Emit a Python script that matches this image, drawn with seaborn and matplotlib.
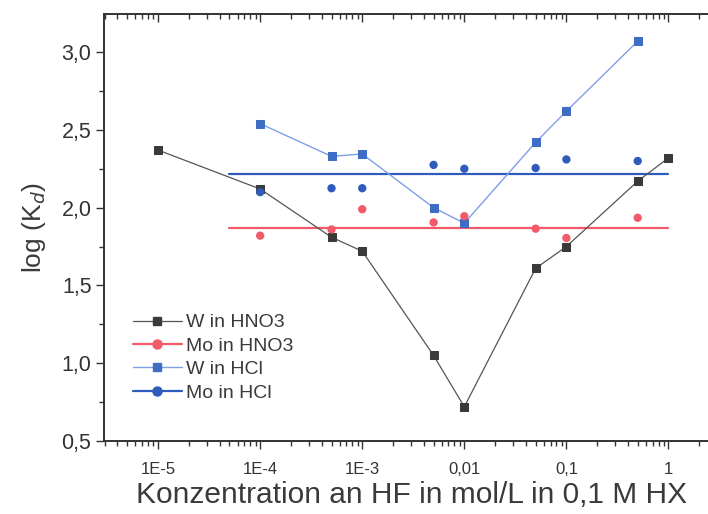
import numpy as np
import pandas as pd
import matplotlib
matplotlib.use("Agg")
import matplotlib.pyplot as plt
from matplotlib.lines import Line2D
from matplotlib.ticker import FixedLocator, FixedFormatter, LogLocator, MultipleLocator, NullFormatter
import seaborn as sns

# HF concentration (mol/L) in 0.1 M HX
hf_w_hno3 = [1e-5, 1e-4, 5e-4, 1e-3, 5e-3, 1e-2, 5e-2, 0.1, 0.5, 1.0]
logkd_w_hno3 = [2.37, 2.12, 1.81, 1.72, 1.05, 0.72, 1.61, 1.75, 2.17, 2.32]

hf_hcl = [1e-4, 5e-4, 1e-3, 5e-3, 1e-2, 5e-2, 0.1, 0.5]
logkd_w_hcl = [2.54, 2.33, 2.345, 2.00, 1.90, 2.42, 2.62, 3.07]
logkd_mo_hcl = [2.10, 2.125, 2.125, 2.275, 2.25, 2.255, 2.31, 2.30]
logkd_mo_hno3 = [1.82, 1.86, 1.99, 1.905, 1.945, 1.865, 1.805, 1.935]

# average levels drawn as horizontal lines over the measured range
level_x = [5e-5, 1.0]
level_mo_hno3 = 1.867
level_mo_hcl = 2.219

xtick_values = [1e-5, 1e-4, 1e-3, 1e-2, 1e-1, 1.0]
xtick_labels = ["1E-5", "1E-4", "1E-3", "0,01", "0,1", "1"]
ytick_values = [0.5, 1.0, 1.5, 2.0, 2.5, 3.0]
ytick_labels = ["0,5", "1,0", "1,5", "2,0", "2,5", "3,0"]

sns.set_theme(style="white")
plt.rcParams["font.family"] = ["Liberation Sans", "DejaVu Sans"]
plt.rcParams["axes.edgecolor"] = "#333333"
plt.rcParams["text.color"] = "#3a3a3a"
plt.rcParams["axes.labelcolor"] = "#3a3a3a"
plt.rcParams["xtick.color"] = "#333333"
plt.rcParams["ytick.color"] = "#333333"

c_w_hno3 = "#3a3a3a"
c_mo_hno3 = "#f25a6a"
c_w_hcl = "#3f6cc4"
c_w_hcl_line = "#7f9fe6"
c_mo_hcl = "#2f5cbc"

fig = plt.figure(figsize=(7.08, 5.14), dpi=100)
ax = fig.add_axes([104 / 708, 73 / 514, 616 / 708, 427 / 514])

df_w_hno3 = pd.DataFrame({"c": hf_w_hno3, "k": logkd_w_hno3})
df_hcl = pd.DataFrame({"c": hf_hcl, "w": logkd_w_hcl, "mo_hcl": logkd_mo_hcl, "mo_hno3": logkd_mo_hno3})
df_levels = pd.DataFrame({"c": level_x,
                          "mo_hno3": [level_mo_hno3] * 2,
                          "mo_hcl": [level_mo_hcl] * 2})

# horizontal level lines
sns.lineplot(data=df_levels, x="c", y="mo_hno3", ax=ax, color=c_mo_hno3, lw=1.6, zorder=2)
sns.lineplot(data=df_levels, x="c", y="mo_hcl", ax=ax, color=c_mo_hcl, lw=1.6, zorder=2)

# connected series
sns.lineplot(data=df_w_hno3, x="c", y="k", ax=ax, color="#555555", lw=0.9,
             marker="s", markersize=5.4, markerfacecolor=c_w_hno3, markeredgecolor=c_w_hno3, zorder=3)
sns.lineplot(data=df_hcl, x="c", y="w", ax=ax, color=c_w_hcl_line, lw=1.0,
             marker="s", markersize=5.4, markerfacecolor=c_w_hcl, markeredgecolor=c_w_hcl, zorder=3)

# scattered Mo points
sns.scatterplot(data=df_hcl, x="c", y="mo_hno3", ax=ax, color=c_mo_hno3, s=36, edgecolor="none", zorder=4)
sns.scatterplot(data=df_hcl, x="c", y="mo_hcl", ax=ax, color=c_mo_hcl, s=36, edgecolor="none", zorder=4)

ax.set_xscale("log")
ax.set_xlim(2.95e-6, 3.2)
ax.set_ylim(0.5, 3.245)

ax.xaxis.set_major_locator(FixedLocator(xtick_values))
ax.xaxis.set_major_formatter(FixedFormatter(xtick_labels))
ax.xaxis.set_minor_locator(LogLocator(base=10, subs=np.arange(2, 10)))
ax.xaxis.set_minor_formatter(NullFormatter())
ax.yaxis.set_major_locator(FixedLocator(ytick_values))
ax.yaxis.set_major_formatter(FixedFormatter(ytick_labels))
ax.yaxis.set_minor_locator(MultipleLocator(0.25))

ax.tick_params(axis="x", which="major", direction="out", length=6, width=1, labelsize=12, pad=9,
               bottom=True, top=False)
ax.tick_params(axis="x", which="minor", direction="out", length=3.5, width=1, bottom=True, top=False)
ax.tick_params(axis="y", which="major", direction="out", length=6, width=1, labelsize=15.5, left=True, pad=3)
ax.tick_params(axis="y", which="minor", direction="out", length=3.5, width=1, left=True)

# top axis with inward ticks
top = ax.twiny()
top.set_xscale("log")
top.set_xlim(ax.get_xlim())
top.xaxis.set_major_locator(FixedLocator(xtick_values))
top.xaxis.set_minor_locator(LogLocator(base=10, subs=np.arange(2, 10)))
top.tick_params(axis="x", which="major", direction="in", length=6, width=1, labeltop=False, top=True)
top.tick_params(axis="x", which="minor", direction="in", length=3.5, width=1, top=True)
top.xaxis.set_major_formatter(NullFormatter())
top.xaxis.set_minor_formatter(NullFormatter())
for a in (ax, top):
    for s in a.spines.values():
        s.set_linewidth(1.2)
        s.set_color("#333333")

ax.set_xlabel("Konzentration an HF in mol/L in 0,1 M HX", fontsize=21.5, labelpad=3)
ax.set_ylabel(r"log (K$_d$)", fontsize=19, labelpad=10)

handles = [
    Line2D([], [], color="#555555", lw=0.9, marker="s", markersize=5.5,
           markerfacecolor=c_w_hno3, markeredgecolor=c_w_hno3),
    Line2D([], [], color=c_mo_hno3, lw=1.6, marker="o", markersize=6.5,
           markerfacecolor=c_mo_hno3, markeredgecolor=c_mo_hno3),
    Line2D([], [], color=c_w_hcl_line, lw=1.0, marker="s", markersize=5.5,
           markerfacecolor=c_w_hcl, markeredgecolor=c_w_hcl),
    Line2D([], [], color=c_mo_hcl, lw=1.6, marker="o", markersize=6.5,
           markerfacecolor=c_mo_hcl, markeredgecolor=c_mo_hcl),
]
labels = ["W in HNO3", "Mo in HNO3", "W in HCl", "Mo in HCl"]
ax.legend(handles, labels, loc="upper left", bbox_to_anchor=(0.025, 0.33), frameon=False,
          fontsize=14, handlelength=2.5, handletextpad=0.25, labelspacing=0.3, borderpad=0.2)

fig.savefig("out.png", dpi=100)
